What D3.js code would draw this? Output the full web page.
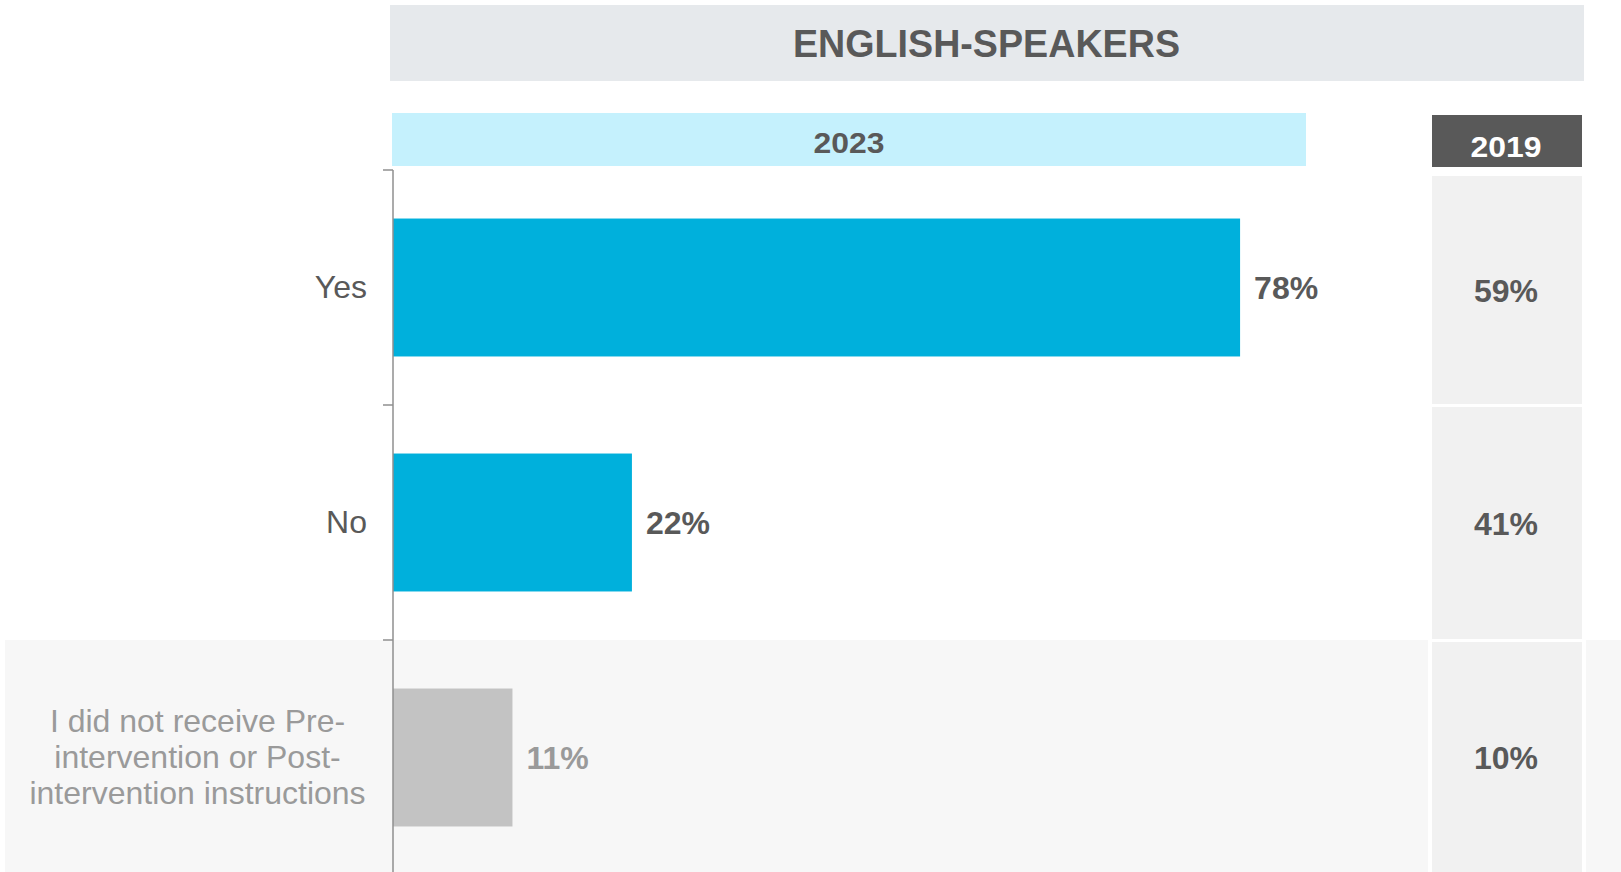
<!DOCTYPE html>
<html>
<head>
<meta charset="utf-8">
<script src="https://cdn.jsdelivr.net/npm/d3@7"></script>
<style>
  html, body { margin: 0; padding: 0; background: #ffffff; }
  svg { display: block; }
  text { font-family: "Liberation Sans", Arial, Helvetica, sans-serif; }
</style>
</head>
<body>
<svg id="chart" width="1621" height="872"></svg>
<script>
// Survey answers, English-speaking respondents
const title = "ENGLISH-SPEAKERS";
const currentYear = "2023";
const previousYear = "2019";
const categories = ["Yes", "No", "I did not receive Pre-intervention or Post-intervention instructions"];
const categoryLines = [["Yes"], ["No"], ["I did not receive Pre-", "intervention or Post-", "intervention instructions"]];
const values2023 = [78, 22, 11];
const values2019 = [59, 41, 10];
const notApplicable = [false, false, true];

const W = 1621, H = 872;
const svg = d3.select("#chart");

const axisX = 393;
const rowTop = 170, rowBottom = 875;

const x = d3.scaleLinear().domain([0, 100]).range([axisX, axisX + 1086]);
const rows = d3.scaleBand().domain(categories).range([rowTop, rowBottom]);
const barFrac = 0.587;

const col2019 = { x0: 1432, x1: 1582 };

const textDark = "#595959";
const barBlue = "#00b0dc";
const barGray = "#c3c3c3";
const grayText = "#9a9a9a";

// Shaded background for the non-applicable row
categories.forEach((c, i) => {
  if (!notApplicable[i]) return;
  const y0 = rows(c);
  svg.append("rect").attr("x", 5).attr("y", y0).attr("width", col2019.x0 - 4 - 5)
    .attr("height", H - y0).attr("fill", "#f7f7f7");
  svg.append("rect").attr("x", col2019.x1 + 4).attr("y", y0).attr("width", W - col2019.x1 - 4)
    .attr("height", H - y0).attr("fill", "#f7f7f7");
});

// Title banner
svg.append("rect").attr("x", 390).attr("y", 5).attr("width", 1584 - 390).attr("height", 76)
  .attr("fill", "#e6e9ec");
svg.append("text").attr("x", 986.5).attr("y", 57)
  .attr("text-anchor", "middle").attr("font-size", 39).attr("font-weight", "bold")
  .attr("fill", textDark).attr("textLength", 387).attr("lengthAdjust", "spacingAndGlyphs")
  .text(title);

// Year headers
svg.append("rect").attr("x", 392).attr("y", 113).attr("width", 1306 - 392).attr("height", 53)
  .attr("fill", "#c5f1fd");
svg.append("text").attr("x", 849).attr("y", 153).attr("text-anchor", "middle")
  .attr("font-size", 30).attr("font-weight", "bold").attr("fill", textDark)
  .attr("textLength", 71).attr("lengthAdjust", "spacingAndGlyphs")
  .text(currentYear);

svg.append("rect").attr("x", col2019.x0).attr("y", 115).attr("width", col2019.x1 - col2019.x0)
  .attr("height", 52).attr("fill", "#595959");
svg.append("text").attr("x", 1506).attr("y", 157).attr("text-anchor", "middle")
  .attr("font-size", 30).attr("font-weight", "bold").attr("fill", "#ffffff")
  .attr("textLength", 71).attr("lengthAdjust", "spacingAndGlyphs")
  .text(previousYear);

// 2019 comparison cells
const cellTops = categories.map((c, i) => i === 0 ? 176 : rows(c) + 2);
const cellBottoms = categories.map((c, i) => i === categories.length - 1 ? H : rows(c) + rows.bandwidth() - 1);
svg.selectAll("rect.cell2019").data(categories).join("rect")
  .attr("class", "cell2019")
  .attr("x", col2019.x0).attr("width", col2019.x1 - col2019.x0)
  .attr("y", (d, i) => cellTops[i]).attr("height", (d, i) => cellBottoms[i] - cellTops[i])
  .attr("fill", "#f1f1f1");
svg.selectAll("text.val2019").data(categories).join("text")
  .attr("class", "val2019")
  .attr("x", (col2019.x0 + col2019.x1) / 2 - 1)
  .attr("y", (d, i) => (cellTops[i] + cellBottoms[i]) / 2 + 12)
  .attr("text-anchor", "middle").attr("font-size", 32).attr("font-weight", "bold")
  .attr("fill", textDark)
  .text((d, i) => values2019[i] + "%");

// Bars for 2023
const barH = rows.bandwidth() * barFrac;
const barY = c => rows(c) + (rows.bandwidth() - barH) / 2;
svg.selectAll("rect.bar").data(categories).join("rect")
  .attr("class", "bar")
  .attr("x", x(0)).attr("y", d => barY(d))
  .attr("width", (d, i) => x(values2023[i]) - x(0)).attr("height", barH)
  .attr("fill", (d, i) => notApplicable[i] ? barGray : barBlue);

svg.selectAll("text.val2023").data(categories).join("text")
  .attr("class", "val2023")
  .attr("x", (d, i) => x(values2023[i]) + 14)
  .attr("y", d => rows(d) + rows.bandwidth() / 2 + 11)
  .attr("font-size", 32).attr("font-weight", "bold")
  .attr("fill", (d, i) => notApplicable[i] ? grayText : textDark)
  .text((d, i) => values2023[i] + "%");

// Vertical axis with ticks between rows
svg.append("line").attr("x1", axisX).attr("x2", axisX).attr("y1", rowTop).attr("y2", H)
  .attr("stroke", "#8f8f8f").attr("stroke-width", 1.5);
const tickYs = categories.map(c => rows(c));
svg.selectAll("line.tick").data(tickYs).join("line")
  .attr("class", "tick")
  .attr("x1", axisX - 10).attr("x2", axisX).attr("y1", d => d).attr("y2", d => d)
  .attr("stroke", "#8f8f8f").attr("stroke-width", 1.5);

// Category labels
categories.forEach((c, i) => {
  const lines = categoryLines[i];
  const mid = rows(c) + rows.bandwidth() / 2;
  const lh = 36;
  const t = svg.append("text")
    .attr("font-size", 32)
    .attr("fill", notApplicable[i] ? grayText : textDark)
    .attr("text-anchor", lines.length > 1 ? "middle" : "end");
  lines.forEach((ln, k) => {
    t.append("tspan")
      .attr("x", lines.length > 1 ? 197.5 : 367)
      .attr("y", mid + 10 + (k - (lines.length - 1) / 2) * lh)
      .text(ln);
  });
});
</script>
</body>
</html>
